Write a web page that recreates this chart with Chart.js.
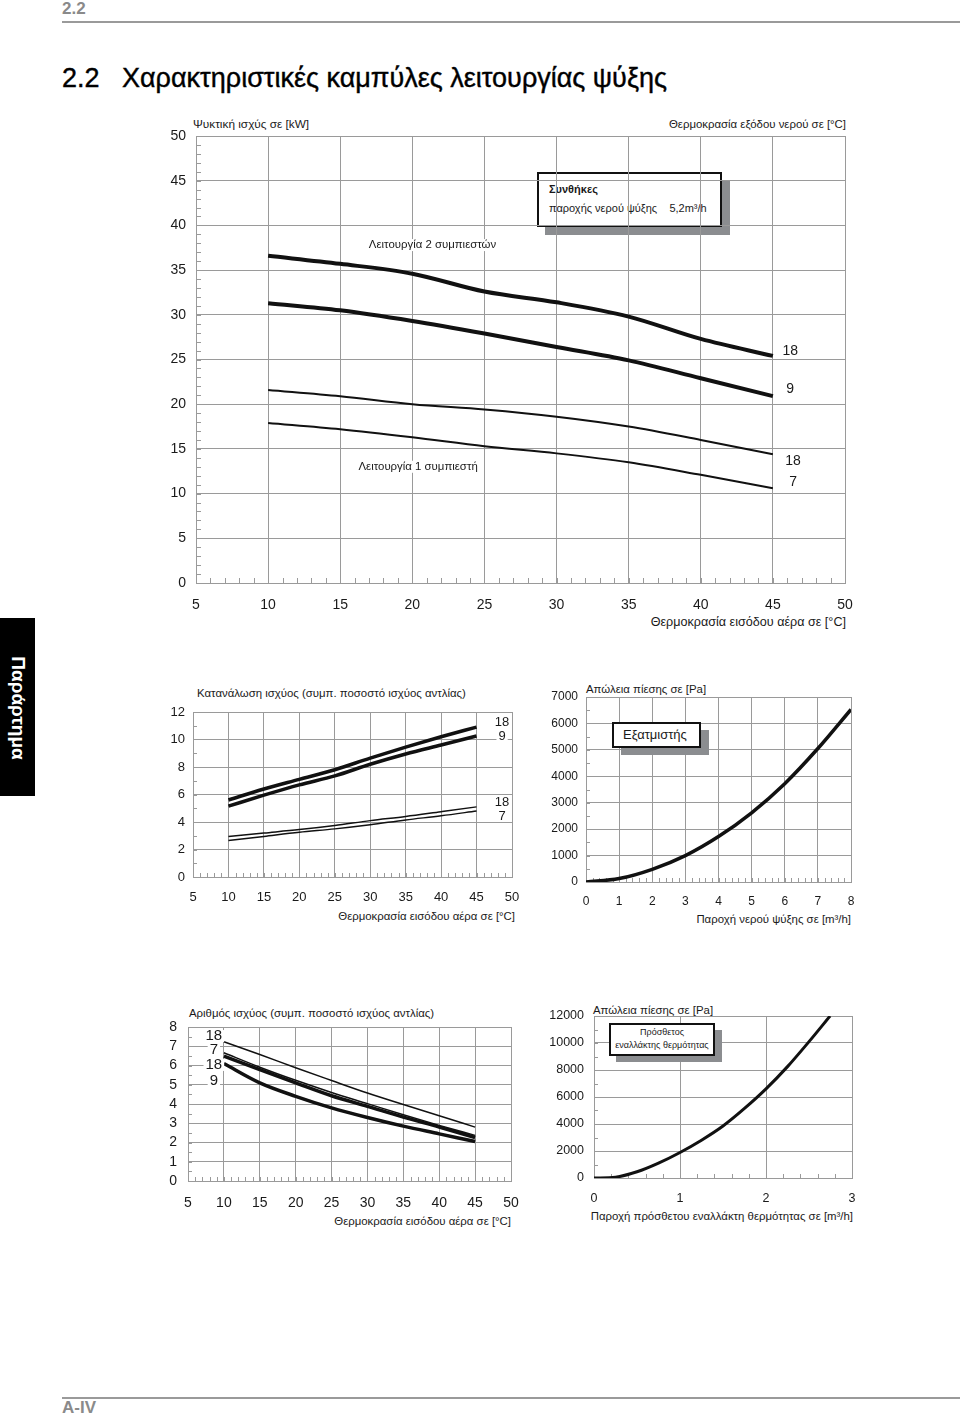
<!DOCTYPE html>
<html>
<head>
<meta charset="utf-8">
<script src="https://cdn.jsdelivr.net/npm/chart.js@4.4.0/dist/chart.umd.min.js"></script>
<style>
  body { margin: 0; width: 960px; height: 1414px; position: relative; background: #fff; overflow: hidden;
         font-family: "Liberation Sans", Arial, sans-serif; color: #1a1a1a; }
  .t { position: absolute; white-space: nowrap; }
  .cap { font-size: 11.4px; line-height: 14px; }
  canvas { position: absolute; }
  .box { position: absolute; background: #fff; border: 2px solid #111; box-sizing: border-box; }
  .shadow { position: absolute; background: #8b8d90; }
</style>
</head>
<body>

<!-- page header -->
<div class="t" style="left:62px;top:0;font-size:17px;font-weight:bold;color:#8a8a8a;line-height:18px">2.2</div>
<div style="position:absolute;left:62px;top:21px;width:898px;height:2px;background:#9a9a9a"></div>
<div class="t" style="left:62px;top:63px;font-size:27px;line-height:30px;color:#000;-webkit-text-stroke:0.4px #000">2.2</div>
<div class="t" style="left:122px;top:63px;font-size:27px;line-height:30px;color:#000;-webkit-text-stroke:0.4px #000">Χαρακτηριστικές καμπύλες λειτουργίας ψύξης</div>

<!-- side tab -->
<div style="position:absolute;left:0;top:618px;width:35px;height:178px;background:#000"></div>
<div class="t" style="left:18px;top:708px;font-size:19px;font-weight:bold;color:#fff;transform:translate(-50%,-50%) rotate(90deg)">Παράρτημα</div>

<!-- chart 1 captions -->
<div class="t" style="left:193px;top:117px;font-size:11.8px;line-height:14px">Ψυκτική ισχύς σε [kW]</div>
<div class="t" style="right:114px;top:117px;font-size:11.4px;line-height:14px">Θερμοκρασία εξόδου νερού σε [°C]</div>
<div class="t" style="right:114px;top:615px;font-size:12.6px;line-height:14px">Θερμοκρασία εισόδου αέρα σε [°C]</div>
<div class="shadow" style="left:545px;top:180px;width:185px;height:55px"></div>
<div class="box" style="left:537px;top:172px;width:185px;height:55px"></div>
<div class="t" style="left:549px;top:183px;font-size:11px;font-weight:bold;line-height:13px">Συνθήκες</div>
<div class="t" style="left:549px;top:202px;font-size:11px;line-height:13px">παροχής νερού ψύξης&nbsp;&nbsp;&nbsp;&nbsp;5,2m³/h</div>
<canvas id="c1" width="720" height="497" style="left:140px;top:126px"></canvas>

<!-- chart 2 -->
<div class="t cap" style="left:197px;top:686px">Κατανάλωση ισχύος (συμπ. ποσοστό ισχύος αντλίας)</div>
<div class="t cap" style="right:445px;top:909px">Θερμοκρασία εισόδου αέρα σε [°C]</div>
<canvas id="c2" width="380" height="205" style="left:150px;top:702px"></canvas>

<!-- chart 3 -->
<div class="t cap" style="left:586px;top:682px">Απώλεια πίεσης σε [Pa]</div>
<div class="t cap" style="right:109px;top:912px">Παροχή νερού ψύξης σε [m³/h]</div>
<canvas id="c3" width="340" height="225" style="left:530px;top:687px"></canvas>
<div class="shadow" style="left:621px;top:730px;width:88px;height:25px"></div>
<div class="box" style="left:612px;top:722px;width:89px;height:26px"></div>
<div class="t" style="left:623px;top:727px;font-size:13px;line-height:16px">Εξατμιστής</div>

<!-- chart 4 -->
<div class="t cap" style="left:189px;top:1006px">Αριθμός ισχύος (συμπ. ποσοστό ισχύος αντλίας)</div>
<div class="t cap" style="right:449px;top:1214px">Θερμοκρασία εισόδου αέρα σε [°C]</div>
<canvas id="c4" width="380" height="194" style="left:150px;top:1017px"></canvas>

<!-- chart 5 -->
<div class="t cap" style="left:593px;top:1003px">Απώλεια πίεσης σε [Pa]</div>
<div class="t cap" style="right:107px;top:1209px">Παροχή πρόσθετου εναλλάκτη θερμότητας σε [m³/h]</div>
<canvas id="c5" width="350" height="202" style="left:520px;top:1006px"></canvas>
<div class="shadow" style="left:616px;top:1030px;width:106px;height:32px"></div>
<div class="box" style="left:609px;top:1023px;width:106px;height:33px"></div>
<div class="t" style="left:609px;top:1026px;width:106px;text-align:center;font-size:9px;line-height:13px">Πρόσθετος<br>εναλλάκτης θερμότητας</div>

<!-- footer -->
<div style="position:absolute;left:62px;top:1397px;width:898px;height:2px;background:#9a9a9a"></div>
<div class="t" style="left:62px;top:1399px;font-size:17px;font-weight:bold;color:#8a8a8a;line-height:18px">A-IV</div>

<script>
// ---- data ----
var airTemp = [10, 15, 20, 25, 30, 35, 40, 45];

// cooling capacity [kW]
var cap2c18 = [36.6, 35.7, 34.6, 32.6, 31.4, 29.8, 27.3, 25.4];
var cap2c9  = [31.3, 30.5, 29.3, 27.9, 26.4, 24.9, 22.9, 20.9];
var cap1c18 = [21.6, 20.9, 20.0, 19.4, 18.6, 17.5, 16.0, 14.4];
var cap1c7  = [17.9, 17.2, 16.3, 15.3, 14.5, 13.5, 12.1, 10.6];
var capXTicks = [5, 10, 15, 20, 25, 30, 35, 40, 45, 50];
var capYTicks = [0, 5, 10, 15, 20, 25, 30, 35, 40, 45, 50];

// power consumption [kW]
var pow2c18 = [5.6, 6.4, 7.1, 7.8, 8.65, 9.45, 10.2, 10.9];
var pow2c9  = [5.15, 5.95, 6.7, 7.35, 8.2, 8.95, 9.6, 10.25];
var pow1c18 = [2.95, 3.2, 3.45, 3.75, 4.1, 4.4, 4.75, 5.1];
var pow1c7  = [2.65, 2.95, 3.25, 3.5, 3.8, 4.15, 4.45, 4.8];
var powYTicks = [0, 2, 4, 6, 8, 10, 12];

// evaporator pressure loss
var evapFlow = [0, 1, 2, 3, 4, 5, 6, 7, 8];
var evapLoss = [0, 130, 480, 1000, 1720, 2620, 3720, 5050, 6530];
var evapXTicks = [0, 1, 2, 3, 4, 5, 6, 7, 8];
var evapYTicks = [0, 1000, 2000, 3000, 4000, 5000, 6000, 7000];

// EER
var eer1c18 = [7.23, 6.57, 5.88, 5.22, 4.57, 3.97, 3.39, 2.8];
var eer1c7  = [6.66, 5.91, 5.23, 4.6, 4.02, 3.44, 2.89, 2.37];
var eer2c18 = [6.49, 5.79, 5.1, 4.43, 3.88, 3.32, 2.8, 2.26];
var eer2c9  = [6.1, 5.1, 4.4, 3.8, 3.3, 2.85, 2.45, 2.05];
var eerYTicks = [0, 1, 2, 3, 4, 5, 6, 7, 8];

// extra heat exchanger pressure loss
var hxFlow = [0, 0.25, 0.5, 0.75, 1, 1.25, 1.5, 1.75, 2, 2.25, 2.5, 2.745];
var hxLoss = [0, 60, 460, 1100, 1890, 2800, 3850, 5150, 6600, 8250, 10100, 12000];
var hxXTicks = [0, 1, 2, 3];
var hxYTicks = [0, 2000, 4000, 6000, 8000, 10000, 12000];

var GRID = '#9a9a9a';
var INK = '#111';

// small inward tick marks between the grid lines
var minorTicks = {
  id: 'minorTicks',
  beforeDatasetsDraw: function (chart, args, o) {
    if (!o || !o.xStep) return;
    var ctx = chart.ctx, xs = chart.scales.x, ys = chart.scales.y, a = chart.chartArea;
    ctx.save();
    ctx.strokeStyle = GRID;
    ctx.lineWidth = 1;
    ctx.beginPath();
    var n = Math.round((xs.max - xs.min) / o.xStep);
    for (var i = 0; i <= n; i++) {
      var px = Math.round(xs.getPixelForValue(xs.min + i * o.xStep)) + 0.5;
      ctx.moveTo(px, a.bottom); ctx.lineTo(px, a.bottom - o.len);
    }
    var m = Math.round((ys.max - ys.min) / o.yStep);
    for (var j = 0; j <= m; j++) {
      var py = Math.round(ys.getPixelForValue(ys.min + j * o.yStep)) + 0.5;
      ctx.moveTo(a.left, py); ctx.lineTo(a.left + o.len, py);
    }
    ctx.stroke();
    ctx.restore();
  }
};

// text placed at data coordinates
var curveLabels = {
  id: 'curveLabels',
  afterDatasetsDraw: function (chart, args, o) {
    if (!o || !o.items) return;
    var ctx = chart.ctx;
    ctx.save();
    ctx.textBaseline = 'middle';
    o.items.forEach(function (it) {
      ctx.font = it.font || o.font;
      ctx.textAlign = 'center';
      var px = chart.scales.x.getPixelForValue(it.x);
      var py = chart.scales.y.getPixelForValue(it.y);
      var w = ctx.measureText(it.text).width;
      ctx.fillStyle = '#fff';
      ctx.fillRect(px - w / 2 - 2, py - 6, w + 4, 12);
      ctx.fillStyle = '#1a1a1a';
      ctx.fillText(it.text, px, py);
    });
    ctx.restore();
  }
};

Chart.register(minorTicks, curveLabels);

function pts(xs, ys) {
  return xs.map(function (x, i) { return { x: x, y: ys[i] }; });
}

function line(xs, ys, w) {
  return { data: pts(xs, ys), borderColor: INK, borderWidth: w, pointRadius: 0,
           cubicInterpolationMode: 'monotone', fill: false };
}

function axis(ticks, size, pad, fontSize, isY) {
  return {
    type: 'linear',
    min: ticks[0],
    max: ticks[ticks.length - 1],
    afterBuildTicks: function (s) { s.ticks = ticks.map(function (v) { return { value: v }; }); },
    afterFit: function (s) {
      if (isY) { s.width = size; s.paddingTop = 0; s.paddingBottom = 0; }
      else { s.height = size; s.paddingLeft = 0; s.paddingRight = 0; }
    },
    grid: { color: GRID, lineWidth: 1, drawTicks: false },
    border: { color: GRID, width: 1 },
    ticks: { padding: pad, color: '#1a1a1a', autoSkip: false, maxRotation: 0,
             font: { family: 'Liberation Sans', size: fontSize },
             callback: function (v) { return String(v); } }
  };
}

function makeChart(id, datasets, xAxis, yAxis, padTop, padRight, minor, labels) {
  return new Chart(document.getElementById(id), {
    type: 'line',
    data: { datasets: datasets },
    options: {
      responsive: false,
      animation: false,
      events: [],
      layout: { padding: { top: padTop, right: padRight, left: 0, bottom: 0 } },
      scales: { x: xAxis, y: yAxis },
      plugins: {
        legend: { display: false },
        tooltip: { enabled: false },
        minorTicks: minor,
        curveLabels: labels
      }
    }
  });
}

var small = '11.4px "Liberation Sans", sans-serif';

makeChart('c1',
  [line(airTemp, cap2c18, 4), line(airTemp, cap2c9, 4), line(airTemp, cap1c18, 2), line(airTemp, cap1c7, 2)],
  axis(capXTicks, 40, 14, 14, false),
  axis(capYTicks, 56, 10, 14, true),
  10, 15,
  { xStep: 1, yStep: 1, len: 5 },
  { font: '14px "Liberation Sans", sans-serif', items: [
    { x: 46.2, y: 25.9, text: '18' },
    { x: 46.2, y: 21.7, text: '9' },
    { x: 46.4, y: 13.6, text: '18' },
    { x: 46.4, y: 11.3, text: '7' },
    { x: 21.4, y: 37.8, text: 'Λειτουργία 2 συμπιεστών', font: small },
    { x: 20.4, y: 13.0, text: 'Λειτουργία 1 συμπιεστή', font: small }
  ] });

makeChart('c2',
  [line(airTemp, pow2c18, 3.5), line(airTemp, pow2c9, 3.5), line(airTemp, pow1c18, 1.5), line(airTemp, pow1c7, 1.5)],
  axis(capXTicks, 30, 13, 13, false),
  axis(powYTicks, 43, 8, 13, true),
  10, 18,
  { xStep: 1, yStep: 1, len: 4 },
  { font: '13px "Liberation Sans", sans-serif', items: [
    { x: 48.6, y: 11.27, text: '18' },
    { x: 48.6, y: 10.25, text: '9' },
    { x: 48.6, y: 5.45, text: '18' },
    { x: 48.6, y: 4.44, text: '7' }
  ] });

makeChart('c3',
  [line(evapFlow, evapLoss, 3.5)],
  axis(evapXTicks, 30, 12, 12, false),
  axis(evapYTicks, 56, 8, 12, true),
  10, 19,
  { xStep: 0.2, yStep: 500, len: 4 },
  null);

makeChart('c4',
  [line(airTemp, eer1c18, 1.5), line(airTemp, eer1c7, 1.5), line(airTemp, eer2c18, 3.5), line(airTemp, eer2c9, 3.5)],
  axis(capXTicks, 30, 14, 14, false),
  axis(eerYTicks, 38, 11, 14, true),
  10, 19,
  { xStep: 1, yStep: 0.5, len: 4 },
  { font: '15px "Liberation Sans", sans-serif', items: [
    { x: 8.6, y: 7.53, text: '18' },
    { x: 8.6, y: 6.8, text: '7' },
    { x: 8.6, y: 6.03, text: '18' },
    { x: 8.6, y: 5.19, text: '9' }
  ] });

makeChart('c5',
  [line(hxFlow, hxLoss, 3)],
  axis(hxXTicks, 30, 13, 12.5, false),
  axis(hxYTicks, 74, 10, 12.5, true),
  10, 18,
  { xStep: 0.2, yStep: 1000, len: 4 },
  null);
</script>
</body>
</html>
